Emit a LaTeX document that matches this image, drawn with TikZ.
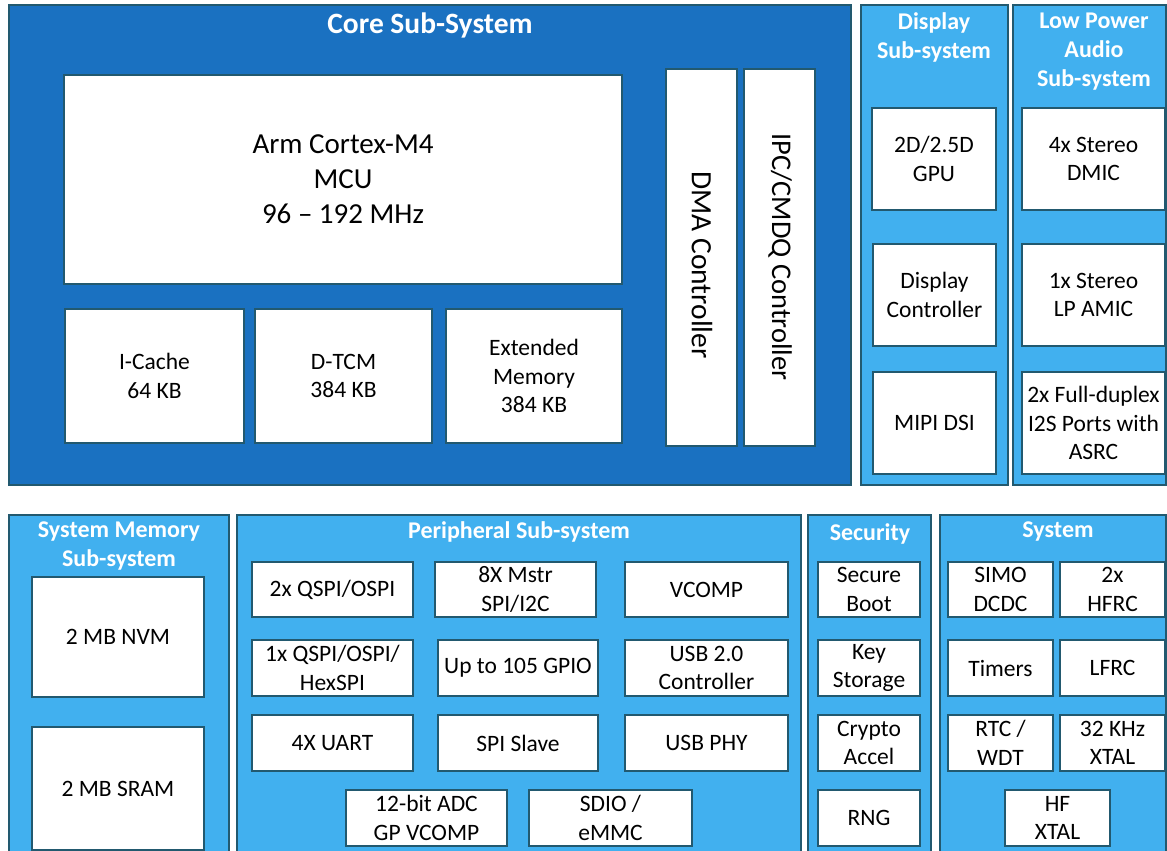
\documentclass[tikz,border=0pt]{standalone}
\usepackage{fontspec}
\setmainfont{Carlito}
\definecolor{coreblue}{HTML}{1A71C1}
\definecolor{lightblue}{HTML}{41B0EF}
\definecolor{edgecol}{HTML}{22596F}
\tikzset{
  panel/.style={draw=edgecol, line width=1.5pt, inner sep=0pt},
  corepanel/.style={panel, fill=coreblue},
  subpanel/.style={panel, fill=lightblue},
  blockbox/.style={draw=edgecol, line width=1.2pt, fill=white, inner sep=0pt, align=center, text=black, font=\fontsize{23.5}{28.5}\selectfont},
  bigbox/.style={blockbox, font=\fontsize{29}{35}\selectfont},
  vlabel/.style={rotate=-90, inner sep=0pt, text=black},
  title/.style={text=white, align=center, font=\bfseries\fontsize{24}{29}\selectfont, inner sep=0pt},
  coretitle/.style={title, font=\bfseries\fontsize{29.5}{32}\selectfont},
}
\newcommand{\blk}[7]{%
  \pgfmathsetmacro\cx{(#3+#5)/2}\pgfmathsetmacro\cy{(#4+#6)/2}%
  \pgfmathsetmacro\bw{#5-#3}\pgfmathsetmacro\bh{#6-#4}%
  \node[#1, minimum width=\bw pt, minimum height=\bh pt] (#2) at (\cx,\cy) {#7};}
\begin{document}
\begin{tikzpicture}[x=1pt,y=-1pt]
\useasboundingbox (0,0) rectangle (1167,851);
% Core sub-system
\blk{corepanel}{core}{9}{5}{851}{485}{}
\node[coretitle] (coreT) at (430,25) {Core Sub-System};
\blk{bigbox}{arm}{64}{75}{622}{284}{Arm Cortex-M4\\MCU\\96 -- 192 MHz}
\blk{blockbox}{icache}{65}{309}{244}{443}{I-Cache\\64 KB}
\blk{blockbox}{dtcm}{255}{309}{432}{443}{D-TCM\\384 KB}
\blk{blockbox}{extmem}{446}{309}{622}{443}{Extended\\Memory\\384 KB}
\blk{blockbox}{dma}{666}{69}{737}{446}{}
\node[vlabel, font=\fontsize{29.5}{32}\selectfont] (dmaT) at (702,265) {DMA Controller};
\blk{blockbox}{ipc}{744}{69}{815}{446}{}
\node[vlabel, font=\fontsize{28.5}{32}\selectfont] (ipcT) at (780,257) {IPC/CMDQ Controller};
% Display
\blk{subpanel}{disp}{861}{5}{1008}{485}{}
\node[title] (dispT) at (934,37) {Display\\Sub-system};
\blk{blockbox}{gpu}{872}{108}{996}{210}{2D/2.5D\\GPU}
\blk{blockbox}{dctl}{873}{244}{996}{346}{Display\\Controller}
\blk{blockbox}{dsi}{873}{372}{996}{474}{MIPI DSI}
% Audio
\blk{subpanel}{audio}{1013}{5}{1166}{485}{}
\node[title] (audioT) at (1094,51.5) {Low Power\\Audio\\Sub-system};
\blk{blockbox}{dmic}{1022}{108}{1165}{210}{4x Stereo\\DMIC}
\blk{blockbox}{amic}{1022}{244}{1165}{346}{1x Stereo\\LP AMIC}
\blk{blockbox}{i2s}{1022}{372}{1165}{474}{2x Full-duplex\\I2S Ports with\\ASRC}
% System memory
\blk{subpanel}{sysmem}{9}{515}{229}{870}{}
\node[title] (sysmemT) at (119,546) {System Memory\\Sub-system};
\blk{blockbox}{nvm}{32}{577}{204}{697}{2 MB NVM}
\blk{blockbox}{sram}{32}{727}{204}{850}{2 MB SRAM}
% Peripheral
\blk{subpanel}{periph}{237}{515}{801}{870}{}
\node[title] (periphT) at (519,531.5) {Peripheral Sub-system};
\blk{blockbox}{qspi}{252}{562}{413}{617}{2x QSPI/OSPI}
\blk{blockbox}{mstr}{435}{562}{596}{617}{8X Mstr\\SPI/I2C}
\blk{blockbox}{vcomp}{625}{562}{788}{617}{VCOMP}
\blk{blockbox}{hex}{252}{640}{413}{696}{1x QSPI/OSPI/\\HexSPI}
\blk{blockbox}{gpio}{438}{640}{598}{696}{Up to 105 GPIO}
\blk{blockbox}{usbc}{625}{640}{788}{696}{USB 2.0\\Controller}
\blk{blockbox}{uart}{252}{715}{413}{771}{4X UART}
\blk{blockbox}{spis}{438}{715}{598}{771}{SPI Slave}
\blk{blockbox}{usbp}{625}{715}{788}{771}{USB PHY}
\blk{blockbox}{adc}{346}{790}{507}{846}{12-bit ADC\\GP VCOMP}
\blk{blockbox}{sdio}{529}{790}{692}{846}{SDIO /\\eMMC}
% Security
\blk{subpanel}{sec}{808}{515}{931}{870}{}
\node[title] (secT) at (870,533.5) {Security};
\blk{blockbox}{sboot}{818}{562}{920}{617}{Secure\\Boot}
\blk{blockbox}{key}{818}{640}{920}{696}{Key\\Storage}
\blk{blockbox}{crypto}{818}{715}{920}{771}{Crypto\\Accel}
\blk{blockbox}{rng}{818}{790}{920}{846}{RNG}
% System
\blk{subpanel}{sys}{940}{515}{1166}{870}{}
\node[title] (sysT) at (1058,531.5) {System};
\blk{blockbox}{simo}{948}{562}{1053}{617}{SIMO\\DCDC}
\blk{blockbox}{hfrc}{1060}{562}{1165}{617}{2x\\HFRC}
\blk{blockbox}{timers}{948}{640}{1053}{696}{Timers}
\blk{blockbox}{lfrc}{1060}{640}{1165}{696}{LFRC}
\blk{blockbox}{rtc}{948}{715}{1053}{771}{RTC /\\WDT}
\blk{blockbox}{xtal}{1060}{715}{1165}{771}{32 KHz\\XTAL}
\blk{blockbox}{hfx}{1005}{790}{1110}{846}{HF\\XTAL}
\end{tikzpicture}
\end{document}
